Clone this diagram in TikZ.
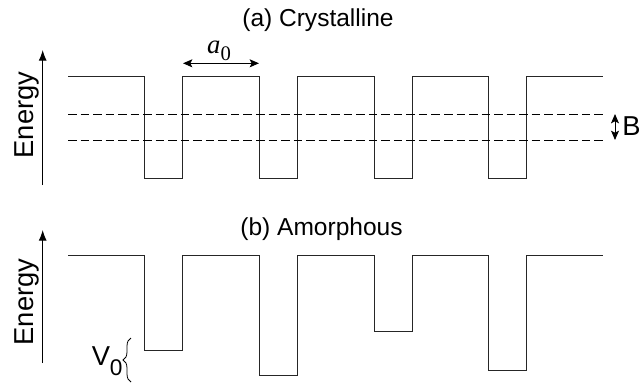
\documentclass[tikz,border=0pt]{standalone}
\usepackage{fontspec}
\setmainfont{Liberation Sans}
\newfontfamily\serifA{Liberation Serif}
\usetikzlibrary{arrows.meta,decorations.pathreplacing}
\begin{document}
\begin{tikzpicture}[x=0.75pt,y=-0.75pt,
  wellline/.style={line width=0.75pt, line join=miter, draw=black!85},
  bandline/.style={line width=0.75pt, dash pattern=on 6.4pt off 3pt},
  axisarrow/.style={line width=0.75pt,-{Latex[length=8pt,width=6pt]}},
  dimarrow/.style={line width=0.75pt,{Stealth[length=7pt,width=6pt,inset=1.5pt]}-{Stealth[length=7pt,width=6pt,inset=1.5pt]}},
  titletext/.style={font=\fontsize{18.4pt}{22pt}\selectfont, anchor=base, inner sep=0pt},
  bigtext/.style={font=\fontsize{20.5pt}{24pt}\selectfont, inner sep=0pt}]
\useasboundingbox (0,0) rectangle (640,383);

% ---------- (a) Crystalline ----------
\node[titletext] (ta) at (318,26.7) {(a) Crystalline};
\draw[wellline] (68,76.7) -| (144.5,178.3) -| (182.7,76.7) -| (259.3,178.3) -| (297.3,76.7)
  -| (374,178.3) -| (412.3,76.7) -| (488.7,178.3) -| (526.7,76.7) -- (603.3,76.7);
\draw[bandline] (68,114.3) -- (603,114.3);
\draw[bandline] (68,140.3) -- (603,140.3);
\draw[axisarrow] (42.7,185) -- (42.7,50);
\node[bigtext, rotate=90, anchor=base] (ea) at (33,115) {Energy};
\draw[dimarrow] (183,63.3) -- (259,63.3);
\node[anchor=base, inner sep=0pt] (a0) at (219,53.3)
  {{\serifA\itshape\fontsize{20pt}{22pt}\selectfont a}\raisebox{-5.5pt}{\serifA\fontsize{15.5pt}{17pt}\selectfont 0}};
\draw[dimarrow] (615,114) -- (615,140);
\node[bigtext, anchor=base west] (bl) at (622,135) {B};

% ---------- (b) Amorphous ----------
\node[titletext] (tb) at (321.5,235) {(b) Amorphous};
\draw[wellline] (68,255) -| (144.5,350.7) -| (182.7,255) -| (259.3,375.7) -| (297.3,255)
  -| (374,331.7) -| (412.3,255) -| (488.7,370) -| (526.7,255) -- (603.3,255);
\draw[axisarrow] (42.7,363) -- (42.7,230);
\node[bigtext, rotate=90, anchor=base] (eb) at (33,302) {Energy};
\node[bigtext, anchor=base west] (v0) at (91.5,365)
  {V\raisebox{-7.5pt}{\fontsize{17pt}{17pt}\selectfont 0}};
\draw[line width=0.6pt, decorate, decoration={brace, amplitude=6pt}] (131,382) -- (131,338);
\end{tikzpicture}
\end{document}
